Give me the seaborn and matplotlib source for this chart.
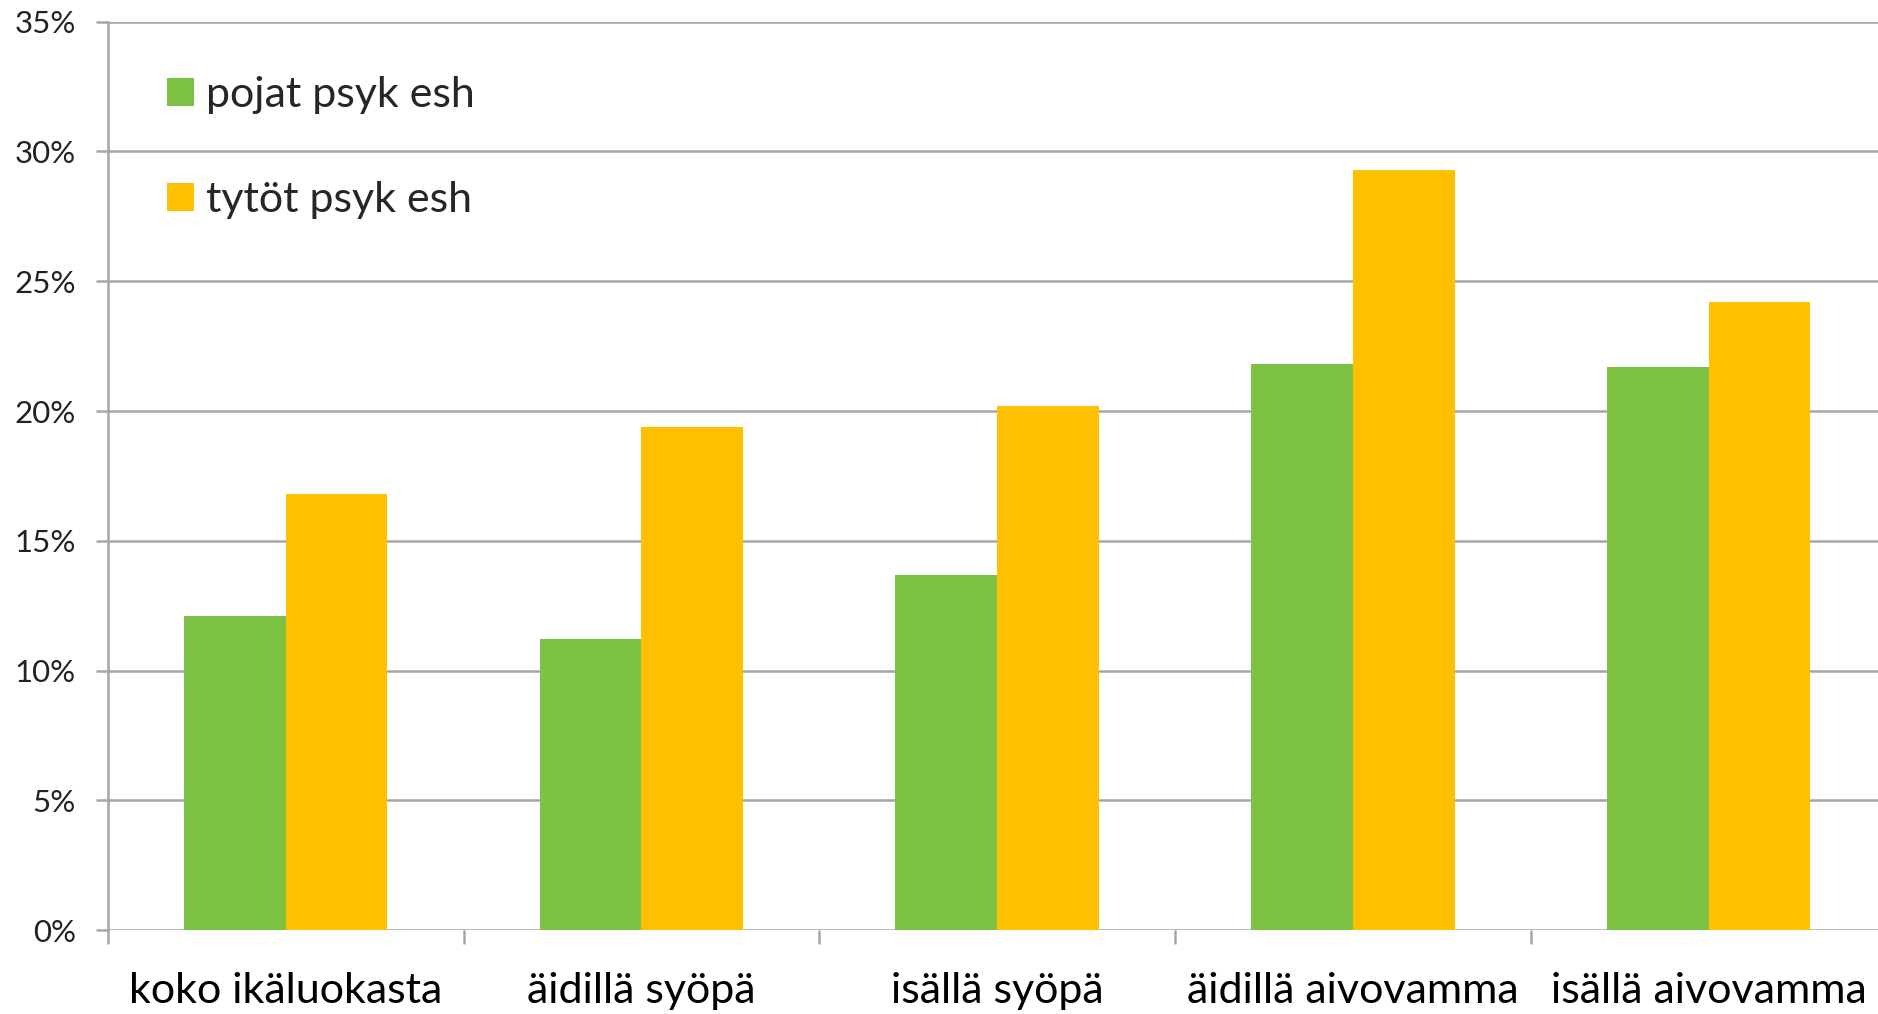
import matplotlib
matplotlib.use("Agg")
import matplotlib.pyplot as plt
import matplotlib.ticker as mticker
import pandas as pd
import seaborn as sns

# ---- data (percent) ----
categories = ["koko ikäluokasta", "äidillä syöpä", "isällä syöpä",
              "äidillä aivovamma", "isällä aivovamma"]
pojat = [12.1, 11.2, 13.7, 21.8, 21.7]
tytot = [16.8, 19.4, 20.2, 29.3, 24.2]
series_names = ["pojat psyk esh", "tytöt psyk esh"]
y_ticks = [0, 5, 10, 15, 20, 25, 30, 35]

COLORS = {
    "pojat psyk esh": "#7DC242",
    "tytöt psyk esh": "#FFC000",
}

rows = []
for cat, p, t in zip(categories, pojat, tytot):
    rows.append({"Ryhmä": cat, "Arvo": p, "Sarja": series_names[0]})
    rows.append({"Ryhmä": cat, "Arvo": t, "Sarja": series_names[1]})
df = pd.DataFrame(rows)

sns.set_style("white")
plt.rcParams["font.family"] = ["Lato", "DejaVu Sans"]

fig = plt.figure(figsize=(18.78, 10.14), dpi=100)
ax = fig.add_axes([0.0574, 0.0826, 1.0045 - 0.0574, 0.9787 - 0.0826])

sns.barplot(
    data=df, x="Ryhmä", y="Arvo", hue="Sarja",
    order=categories, hue_order=series_names,
    palette=COLORS, width=0.572, gap=0, linewidth=0,
    saturation=1, ax=ax, legend=True,
)

ax.set_ylim(0, 35)
ax.set_xlim(-0.5, 4.5)
ax.set_yticks(y_ticks)
ax.yaxis.set_major_formatter(mticker.FuncFormatter(lambda v, _: f"{v:.0f}%"))
ax.grid(axis="y", color="#A6A6A6", linewidth=1.8, zorder=0)
ax.set_axisbelow(True)

for s in ["top", "right", "bottom"]:
    ax.spines[s].set_visible(False)
ax.spines["left"].set_color("#A6A6A6")
ax.spines["left"].set_linewidth(1.8)

# category boundaries as tick marks
ax.set_xticks([i - 0.5 for i in range(len(categories) + 1)], minor=True)
ax.tick_params(axis="x", which="minor", length=10, width=1.8, color="#A6A6A6",
               direction="out", bottom=True)
ax.tick_params(axis="x", which="major", length=0, pad=30, labelsize=31,
               labelcolor="#000000")
ax.tick_params(axis="y", length=9, width=1.8, color="#A6A6A6", direction="out",
               left=True, labelsize=22.5, labelcolor="#222222", pad=14)
ax.set_xlabel("")
ax.set_ylabel("")

handles, labels = ax.get_legend_handles_labels()
ax.legend(handles, labels, loc="upper left", bbox_to_anchor=(0.089, 0.925),
          bbox_transform=fig.transFigure, frameon=False, fontsize=31,
          handlelength=0.62, handleheight=0.62, handletextpad=0.28,
          labelspacing=1.55, borderpad=0, borderaxespad=0)

fig.savefig("out.png", dpi=100)
